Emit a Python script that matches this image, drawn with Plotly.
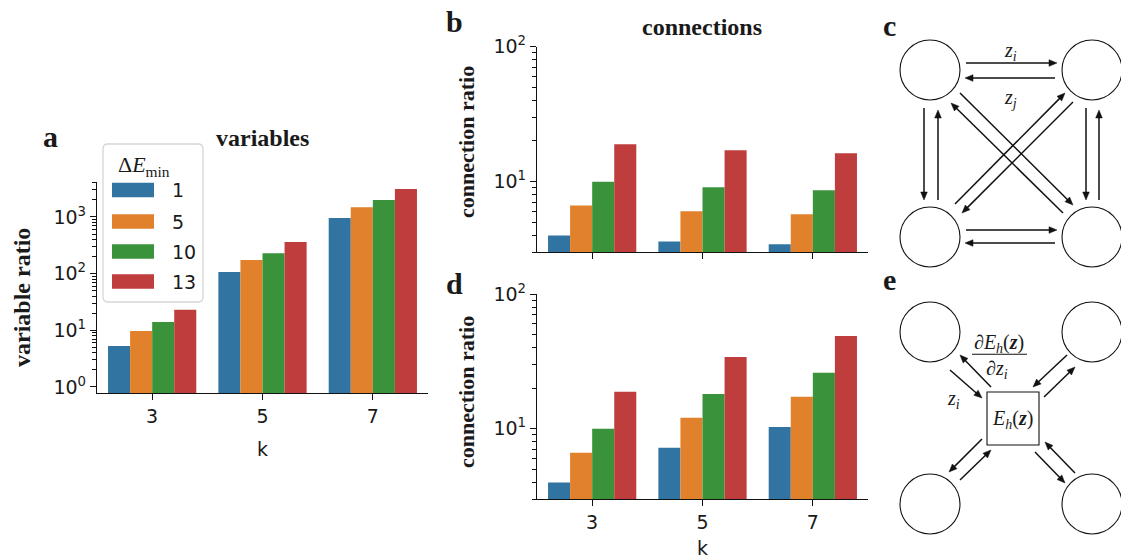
import math
import plotly.graph_objects as go

W, H = 1121, 559

# ---------------- data ----------------
k_labels = ["3", "5", "7"]
dE_labels = ["1", "5", "10", "13"]
colors = ["#3274a1", "#e1812c", "#3a923a", "#c03d3e"]

# panel a: variable ratio
var_ratio_1 = [5.3, 107, 955]
var_ratio_5 = [9.7, 174, 1480]
var_ratio_10 = [14, 230, 2000]
var_ratio_13 = [23, 363, 3100]

# panel b: connection ratio
conn_b_1 = [4.0, 3.61, 3.44]
conn_b_5 = [6.67, 6.03, 5.73]
conn_b_10 = [10.0, 9.07, 8.62]
conn_b_13 = [18.9, 17.1, 16.2]

# panel d: connection ratio
conn_d_1 = [4.0, 7.23, 10.3]
conn_d_5 = [6.64, 12.1, 17.3]
conn_d_10 = [10.0, 18.1, 26.0]
conn_d_13 = [18.8, 34.1, 48.9]

var_series = [var_ratio_1, var_ratio_5, var_ratio_10, var_ratio_13]
conn_b_series = [conn_b_1, conn_b_5, conn_b_10, conn_b_13]
conn_d_series = [conn_d_1, conn_d_5, conn_d_10, conn_d_13]

# ---------------- helpers ----------------
def px(x):
    return x / W

def py(y):
    return 1 - y / H

TXT = "#1a1a1a"
TICKFONT = dict(family="DejaVu Sans", size=19, color=TXT)
SERIF = "Liberation Serif"

fig = go.Figure()

for s_idx, (name, col) in enumerate(zip(dE_labels, colors)):
    fig.add_trace(go.Bar(x=k_labels, y=var_series[s_idx], marker=dict(color=col, line=dict(width=0)),
                         name=name, xaxis="x", yaxis="y", showlegend=False, offsetgroup=name))
    fig.add_trace(go.Bar(x=k_labels, y=conn_b_series[s_idx], marker=dict(color=col, line=dict(width=0)),
                         name=name, xaxis="x2", yaxis="y2", showlegend=False, offsetgroup=name))
    fig.add_trace(go.Bar(x=k_labels, y=conn_d_series[s_idx], marker=dict(color=col, line=dict(width=0)),
                         name=name, xaxis="x3", yaxis="y3", showlegend=False, offsetgroup=name))

def minor_vals(lo_exp, hi_exp):
    v = []
    for e in range(lo_exp, hi_exp + 1):
        for m in range(2, 10):
            v.append(m * 10 ** e)
    return v

def xaxis_cfg(dom, anchor, showlabels):
    return dict(domain=[px(dom[0]), px(dom[1])], anchor=anchor, type="category",
                range=[-0.5, 2.5], showline=True, linecolor="#111", linewidth=1.3,
                ticks="outside", ticklen=6, tickwidth=1.3, tickcolor="#111",
                showticklabels=showlabels, tickfont=TICKFONT, showgrid=False, zeroline=False,
                automargin=False, fixedrange=True)

def yaxis_cfg(dom, anchor, rng, majors, lo_exp, hi_exp):
    return dict(domain=[py(dom[0]), py(dom[1])], anchor=anchor, type="log", range=rng,
                showline=True, linecolor="#111", linewidth=1.3,
                ticks="outside", ticklen=6, tickwidth=1.3, tickcolor="#111",
                tickmode="array", tickvals=[10 ** m for m in majors],
                ticktext=["10<sup>%d</sup>" % m for m in majors],
                tickfont=TICKFONT, showgrid=False, zeroline=False,
                minor=dict(tickmode="array", tickvals=minor_vals(lo_exp, hi_exp), ticks="outside",
                           ticklen=3.5, tickwidth=1, tickcolor="#111", showgrid=False),
                automargin=False, fixedrange=True)

fig.update_layout(
    width=W, height=H, autosize=False,
    margin=dict(l=0, r=0, t=0, b=0, pad=0, autoexpand=False),
    paper_bgcolor="white", plot_bgcolor="white",
    barmode="group", bargap=0.2, bargroupgap=0,
    xaxis=xaxis_cfg((97, 428), "y", True),
    yaxis=yaxis_cfg((393, 182), "x", [-0.106, 3.617], [0, 1, 2, 3], 0, 3),
    xaxis2=xaxis_cfg((537, 868), "y2", False),
    yaxis2=yaxis_cfg((252.3, 46.5), "x2", [math.log10(3), 2], [1, 2], 0, 1),
    xaxis3=xaxis_cfg((537, 868), "y3", True),
    yaxis3=yaxis_cfg((499.3, 294), "x3", [math.log10(3), 2], [1, 2], 0, 1),
)

ann = []
shapes = []

def text(x, y, s, size, family=SERIF, bold=False, angle=0, xanchor="center", color=TXT):
    ann.append(dict(x=px(x), y=py(y), xref="paper", yref="paper", text=("<b>%s</b>" % s) if bold else s,
                    showarrow=False, font=dict(family=family, size=size, color=color),
                    textangle=angle, xanchor=xanchor, yanchor="middle"))

# titles / labels
text(262, 138, "variables", 24, bold=True)
text(702, 27, "connections", 24, bold=True)
text(22, 298, "variable ratio", 24, bold=True, angle=-90)
text(466, 142, "connection ratio", 22, bold=True, angle=-90)
text(466, 392, "connection ratio", 22, bold=True, angle=-90)
text(262, 449, "k", 19, family="DejaVu Sans")
text(702, 548, "k", 19, family="DejaVu Sans")
for lt, (lx, ly) in zip(["a", "b", "c", "d", "e"],
                        [(50, 136), (454, 21), (889, 26), (454, 283), (889, 279)]):
    text(lx, ly, lt, 30, bold=True)

# manual legend
lx0, lx1, ly0, ly1, r = 103, 203, 144, 302, 5
path = ("M %f,%f L %f,%f Q %f,%f %f,%f L %f,%f Q %f,%f %f,%f L %f,%f Q %f,%f %f,%f L %f,%f Q %f,%f %f,%f Z" % (
    px(lx0 + r), py(ly0), px(lx1 - r), py(ly0), px(lx1), py(ly0), px(lx1), py(ly0 + r),
    px(lx1), py(ly1 - r), px(lx1), py(ly1), px(lx1 - r), py(ly1),
    px(lx0 + r), py(ly1), px(lx0), py(ly1), px(lx0), py(ly1 - r),
    px(lx0), py(ly0 + r), px(lx0), py(ly0), px(lx0 + r), py(ly0)))
shapes.append(dict(type="path", path=path, xref="paper", yref="paper",
                   fillcolor="rgba(255,255,255,0.85)", line=dict(color="#d6d6d6", width=1.3), layer="above"))
text(144, 166, "Δ<i>E</i><sub>min</sub>", 22)
row_y = [190, 221.5, 251.5, 281.5]
for name, col, ry in zip(dE_labels, colors, row_y):
    shapes.append(dict(type="rect", xref="paper", yref="paper", x0=px(112), x1=px(154),
                       y0=py(ry + 7.2), y1=py(ry - 7.2), fillcolor=col, line=dict(width=0), layer="above"))
    text(170, ry, name, 19, family="DejaVu Sans", xanchor="left")

# ---------------- diagrams ----------------
def circle(cx, cy, rr=30):
    shapes.append(dict(type="circle", xref="paper", yref="paper", x0=px(cx - rr), x1=px(cx + rr),
                       y0=py(cy + rr), y1=py(cy - rr), line=dict(color="#111", width=1.1),
                       fillcolor="rgba(0,0,0,0)"))

def arrow(t, h, L=8.0, hw=3.3):
    dx, dy = h[0] - t[0], h[1] - t[1]
    d = math.hypot(dx, dy)
    ux, uy = dx / d, dy / d
    nx, ny = -uy, ux
    bx, by = h[0] - ux * L, h[1] - uy * L
    shapes.append(dict(type="line", xref="paper", yref="paper", x0=px(t[0]), y0=py(t[1]),
                       x1=px(bx + ux * 1.5), y1=py(by + uy * 1.5), line=dict(color="#111", width=1.5)))
    tri = "M %f,%f L %f,%f L %f,%f Z" % (px(h[0]), py(h[1]), px(bx + nx * hw), py(by + ny * hw),
                                          px(bx - nx * hw), py(by - ny * hw))
    shapes.append(dict(type="path", path=tri, xref="paper", yref="paper", fillcolor="#111",
                       line=dict(color="#111", width=0.5)))

for c in [(930, 70), (1092, 70), (930, 237), (1092, 237)]:
    circle(*c)
arrows_c = [((966, 63), (1057, 63)), ((1055, 78), (965, 78)),
            ((966, 230), (1057, 230)), ((1055, 243), (965, 243)),
            ((924, 108), (924, 200)), ((938, 200), (938, 110)),
            ((1086, 108), (1086, 200)), ((1099, 200), (1099, 110)),
            ((960, 93), (1073, 205)), ((1063, 213), (951, 103)),
            ((955, 204), (1065, 93)), ((1073, 102), (962, 213))]
for t, h in arrows_c:
    arrow(t, h)
text(1010, 51, "<i>z</i><sub><i>i</i></sub>", 20)
text(1010, 98, "<i>z</i><sub><i>j</i></sub>", 20)

for c in [(930, 332), (1092, 332), (930, 504), (1092, 504)]:
    circle(*c)
shapes.append(dict(type="rect", xref="paper", yref="paper", x0=px(987), x1=px(1039), y0=py(445), y1=py(392),
                   line=dict(color="#111", width=1.1), fillcolor="rgba(0,0,0,0)"))
arrows_e = [((950, 370), (982, 398)), ((991, 387), (960, 355)),
            ((1067, 355), (1033, 387)), ((1044, 397), (1075, 367)),
            ((982, 439), (949, 472)), ((960, 480), (991, 450)),
            ((1035, 452), (1065, 483)), ((1075, 473), (1045, 442))]
for t, h in arrows_e:
    arrow(t, h)
text(1012, 419, "<i>E</i><sub><i>h</i></sub>(<b><i>z</i></b>)", 20)
text(999, 343, "∂<i>E</i><sub><i>h</i></sub>(<b><i>z</i></b>)", 20)
shapes.append(dict(type="line", xref="paper", yref="paper", x0=px(972), x1=px(1027), y0=py(354.3), y1=py(354.3),
                   line=dict(color="#111", width=1.1)))
text(997, 369, "∂<i>z</i><sub><i>i</i></sub>", 20)
text(953, 399, "<i>z</i><sub><i>i</i></sub>", 20)

fig.update_layout(annotations=ann, shapes=shapes)
fig.write_html("out.html", config={"displayModeBar": False},
               post_script="document.body.style.margin='0';document.body.style.overflow='hidden';")
